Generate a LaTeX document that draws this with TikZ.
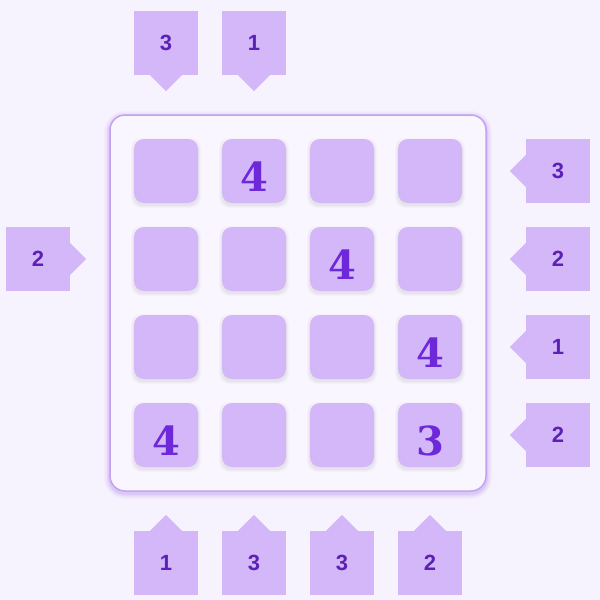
\documentclass[tikz,border=0pt]{standalone}
\usepackage{fontspec}
\setmainfont{Liberation Sans}
\newfontfamily\digitfont{DejaVu Serif}
\definecolor{bgc}{HTML}{F7F3FE}
\definecolor{cellc}{HTML}{D4B7F8}
\definecolor{cluetext}{HTML}{5B21B6}
\definecolor{digitc}{HTML}{6D28D9}
\definecolor{framec}{HTML}{C5A2F1}
\definecolor{framefill}{HTML}{F9F6FF}
\definecolor{glowc}{HTML}{9D6CE6}
\tikzset{
  board/.style={draw=framec, line width=1.5pt, fill=framefill, rounded corners=15pt,
    minimum width=376pt, minimum height=376pt, inner sep=0pt},
  cell/.style={fill=cellc, rounded corners=10pt, minimum size=64pt, inner sep=0pt},
  digit/.style={text=digitc, inner sep=0pt, font=\digitfont\bfseries\fontsize{40}{40}\selectfont},
  clue/.style={fill=cellc, minimum size=64pt, inner sep=0pt, text=cluetext,
    font=\bfseries\fontsize{22}{22}\selectfont},
  pointer/.style={fill=cellc},
  glowring/.style={draw=glowc, rounded corners=15pt},
  shade/.style={fill=black, rounded corners=10pt}
}
\begin{document}
\begin{tikzpicture}[x=1pt,y=-1pt]
\fill[bgc] (0,0) rectangle (600,600);
\useasboundingbox (0,0) rectangle (600,600);
% board glow
\foreach \w/\o in {12/0.05,9/0.07,6/0.09,3.5/0.12}{
  \draw[glowring, line width=\w pt, opacity=\o] (110,117) rectangle (486,493);
}
\node[board] (frame) at (298,303) {};
% cells
\foreach \r/\yy in {1/171,2/259,3/347,4/435}{
  \foreach \c/\xx in {1/166,2/254,3/342,4/430}{
    \foreach \e/\o in {3/0.02,2/0.025,1/0.03}{
      \fill[shade, opacity=\o] (\xx-32-\e,\yy-32-\e+2) rectangle (\xx+32+\e,\yy+32+\e+2);
    }
    \node[cell] (c\r\c) at (\xx,\yy) {};
  }
}
% given digits
\node[digit] (d12) at ([yshift=-6pt]c12.center) {4};
\node[digit] (d23) at ([yshift=-6pt]c23.center) {4};
\node[digit] (d34) at ([yshift=-6pt]c34.center) {4};
\node[digit] (d41) at ([yshift=-6pt]c41.center) {4};
\node[digit] (d44) at ([yshift=-6pt]c44.center) {3};
% top clues
\foreach \n/\xx/\v in {t1/166/3, t2/254/1}{
  \node[clue] (\n) at (\xx,43) {\v};
  \fill[pointer] ([xshift=-16pt]\n.south) -- ([xshift=16pt]\n.south) -- ([yshift=-16pt]\n.south) -- cycle;
}
% bottom clues
\foreach \n/\xx/\v in {b1/166/1, b2/254/3, b3/342/3, b4/430/2}{
  \node[clue] (\n) at (\xx,563) {\v};
  \fill[pointer] ([xshift=-16pt]\n.north) -- ([xshift=16pt]\n.north) -- ([yshift=16pt]\n.north) -- cycle;
}
% right clues
\foreach \n/\yy/\v in {r1/171/3, r2/259/2, r3/347/1, r4/435/2}{
  \node[clue] (\n) at (558,\yy) {\v};
  \fill[pointer] ([yshift=-16pt]\n.west) -- ([yshift=16pt]\n.west) -- ([xshift=-16pt]\n.west) -- cycle;
}
% left clue
\node[clue] (l2) at (38,259) {2};
\fill[pointer] ([yshift=-16pt]l2.east) -- ([yshift=16pt]l2.east) -- ([xshift=16pt]l2.east) -- cycle;
\end{tikzpicture}
\end{document}
